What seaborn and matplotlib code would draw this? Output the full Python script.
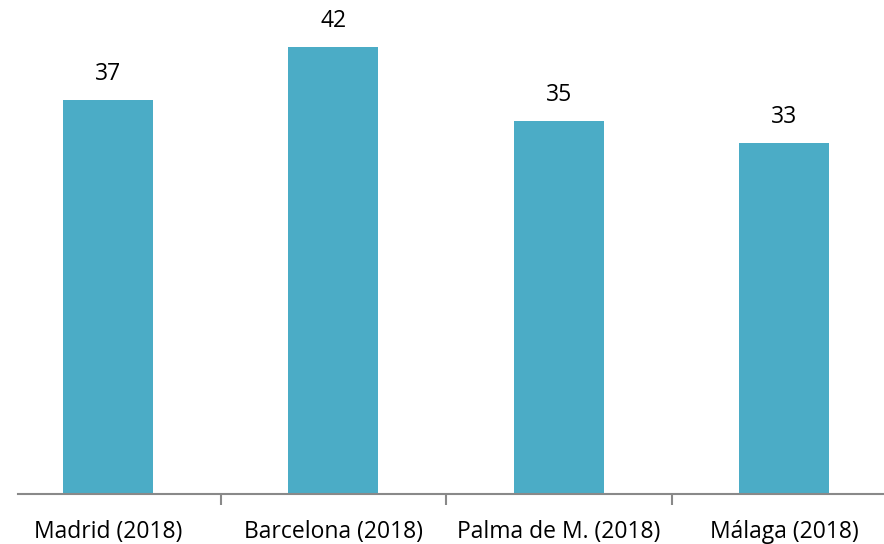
import matplotlib
matplotlib.use("Agg")
import matplotlib.pyplot as plt
import seaborn as sns
import pandas as pd

categories = ["Madrid (2018)", "Barcelona (2018)", "Palma de M. (2018)", "Málaga (2018)"]
values = [37, 42, 35, 33]

sns.set_theme(style="white")
plt.rcParams['font.family'] = ['Open Sans', 'DejaVu Sans']

df = pd.DataFrame({"city": categories, "value": values})

fig = plt.figure(figsize=(8.84, 5.44), dpi=100)
ax = fig.add_axes([-5/884, 50/544, 902/884, 494/544])
sns.barplot(data=df, x="city", y="value", color="#4BACC6", saturation=1, width=0.4,
            linewidth=0, ax=ax)

ax.set_xlim(-0.5, 3.5)
ax.set_ylim(0, 46.4)
for c in ax.containers:
    ax.bar_label(c, labels=[str(v) for v in values], padding=10, fontsize=16.5, color="black")

for s in ["top", "right", "left"]:
    ax.spines[s].set_visible(False)
ax.spines["bottom"].set_color("#898989")
ax.spines["bottom"].set_linewidth(1.5)
ax.spines["bottom"].set_bounds(-0.399, 3.5)
ax.set_yticks([])
ax.set_xlabel("")
ax.set_ylabel("")
ax.set_xticks([0, 1, 2, 3])
ax.set_xticklabels(categories, fontsize=16.5, color="black")
ax.tick_params(axis="x", length=0, pad=19)
ax.set_xticks([0.5, 1.5, 2.5], minor=True)
ax.tick_params(axis="x", which="minor", length=8, width=1.5, color="#898989", bottom=True)

fig.savefig("out.png", dpi=100)
